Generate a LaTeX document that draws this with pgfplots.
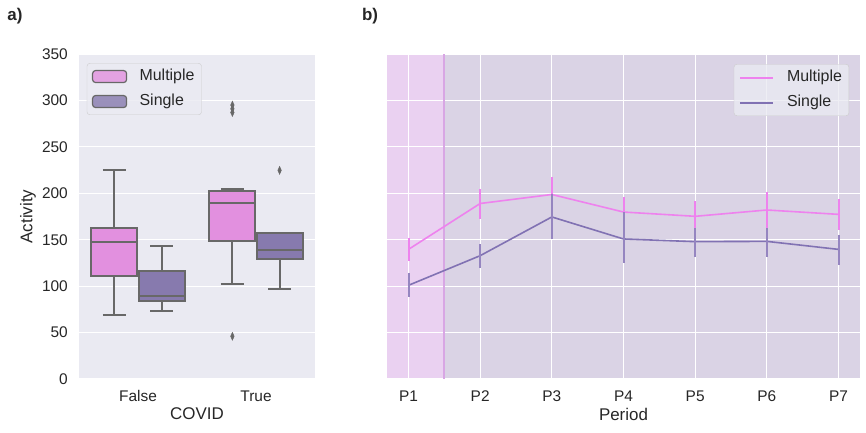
\documentclass[border=0pt]{standalone}
\usepackage{pgfplots}
\pgfplotsset{compat=1.18}
\usepackage{fontspec}
\setmainfont{Liberation Sans}

\definecolor{bg}{HTML}{EAEAF2}
\definecolor{txt}{HTML}{262626}
\definecolor{multfill}{HTML}{E290DF}
\definecolor{singfill}{HTML}{877AAE}
\definecolor{multline}{HTML}{EE82EE}
\definecolor{singline}{HTML}{8172B3}
\definecolor{singerr}{HTML}{9585C0}
\definecolor{boxedge}{HTML}{686868}
\definecolor{spanA}{HTML}{EAD1F1}
\definecolor{spanB}{HTML}{DAD3E5}
\definecolor{spanline}{HTML}{D8A6E4}
\definecolor{legedge}{HTML}{CCCCCC}

\pgfplotsset{
  set layers,
  sb/.style={
    scale only axis, height=325bp,
    axis background/.style={fill=bg},
    axis line style={draw=none},
    major tick length=0pt,
    major grid style={white, line width=1.2bp},
    ymin=0, ymax=350, ytick={0,50,...,350},
    /pgf/number format/assume math mode=true,
    tick label style={font=\fontsize{15.5}{18}\selectfont, text=txt, inner sep=0pt},
    xticklabel style={anchor=center, yshift=-17bp},
    yticklabel style={anchor=east, xshift=-11bp},
    label style={font=\fontsize{17}{20}\selectfont, text=txt},
    xlabel style={at={(axis description cs:0.5,-0.108)}, anchor=center},
    legend style={fill=bg, fill opacity=0.8, text opacity=1, draw opacity=1, draw=legedge,
      rounded corners=3bp, font=\fontsize{16}{19}\selectfont, text=txt,
      inner xsep=5bp, inner ysep=3.5bp, row sep=5.5bp,
      nodes={inner sep=2bp, text height=12bp, text depth=3.5bp}},
    legend cell align=left,
  },
  boxpart/.style={forget plot, draw=boxedge, line width=2bp},
  whisk/.style={forget plot, boxedge, line width=2bp, unbounded coords=jump},
  outl/.style={forget plot, only marks, mark=diamond*, mark size=4bp,
    mark options={xscale=0.6, fill=boxedge, draw=boxedge, line width=0.4bp}},
}

\begin{document}
\begin{tikzpicture}
\path (0,0) rectangle (866bp,433bp);

\node[font=\fontsize{17}{20}\selectfont\bfseries, text=txt] at (15bp,417bp) {a)};
\node[font=\fontsize{17}{20}\selectfont\bfseries, text=txt] at (370bp,417bp) {b)};

% a) boxplots: box = quartiles, whiskers, median, outliers
\begin{axis}[sb,
  at={(79bp,54bp)}, anchor=south west,
  width=236bp,
  xmin=-0.5, xmax=1.5,
  xtick={0,1}, xticklabels={False,True},
  ymajorgrids=true,
  xlabel=COVID, ylabel=Activity,
  ylabel style={at={(axis description cs:-0.216,0.5)}, anchor=center},
  legend style={at={(0.033,0.972)}, anchor=north west},
  legend image code/.code={\draw[#1] (0bp,-6bp) rectangle (34bp,6bp);
    \path[draw=none, fill=none] (0bp,0bp) -- (45bp,0bp);},
]
\addlegendimage{fill=multfill, draw=boxedge, line width=1.2bp}
\addlegendentry{Multiple}
\addlegendimage{fill=singfill, draw=boxedge, line width=1.2bp}
\addlegendentry{Single}

% False / Multiple
\addplot[whisk] coordinates {(-0.2,111.3) (-0.2,69.3) (nan,nan) (-0.2975,69.3) (-0.1025,69.3) (nan,nan)
  (-0.2,163) (-0.2,225.4) (nan,nan) (-0.2975,225.4) (-0.1025,225.4)};
\addplot[boxpart, fill=multfill] coordinates {(-0.395,111.3) (-0.005,111.3) (-0.005,163) (-0.395,163)} -- cycle;
\addplot[boxpart] coordinates {(-0.395,147.9) (-0.005,147.9)};
% False / Single
\addplot[whisk] coordinates {(0.2,84) (0.2,73.6) (nan,nan) (0.1025,73.6) (0.2975,73.6) (nan,nan)
  (0.2,116) (0.2,143.6) (nan,nan) (0.1025,143.6) (0.2975,143.6)};
\addplot[boxpart, fill=singfill] coordinates {(0.005,84) (0.395,84) (0.395,116) (0.005,116)} -- cycle;
\addplot[boxpart] coordinates {(0.005,89) (0.395,89)};
% True / Multiple
\addplot[whisk] coordinates {(0.8,149) (0.8,102.7) (nan,nan) (0.7025,102.7) (0.8975,102.7) (nan,nan)
  (0.8,202.5) (0.8,205) (nan,nan) (0.7025,205) (0.8975,205)};
\addplot[boxpart, fill=multfill] coordinates {(0.605,149) (0.995,149) (0.995,202.5) (0.605,202.5)} -- cycle;
\addplot[boxpart] coordinates {(0.605,190) (0.995,190)};
\addplot[outl] coordinates {(0.8,295) (0.8,291) (0.8,287) (0.8,46)};
% True / Single
\addplot[whisk] coordinates {(1.2,129.2) (1.2,97.3) (nan,nan) (1.1025,97.3) (1.2975,97.3) (nan,nan)
  (1.2,157) (1.2,157) (nan,nan) (1.1025,157) (1.2975,157)};
\addplot[boxpart, fill=singfill] coordinates {(1.005,129.2) (1.395,129.2) (1.395,157) (1.005,157)} -- cycle;
\addplot[boxpart] coordinates {(1.005,139.3) (1.395,139.3)};
\addplot[outl] coordinates {(1.2,224.7)};
\end{axis}

% b) line plot with error bars
\begin{axis}[sb,
  at={(387bp,54bp)}, anchor=south west,
  width=473bp,
  xmin=-0.3, xmax=6.3,
  xtick={0,...,6}, xticklabels={P1,P2,P3,P4,P5,P6,P7},
  yticklabels={},
  grid=major,
  xlabel=Period,
  legend style={at={(0.977,0.969)}, anchor=north east},
  legend image code/.code={\draw[#1, line width=2bp] (0bp,0bp) -- (33bp,0bp);
    \path[draw=none, fill=none] (0bp,0bp) -- (45bp,0bp);},
]
\addplot[forget plot, fill=spanB, draw=none, on layer=axis background]
  coordinates {(0.5,0) (6.3,0) (6.3,350) (0.5,350)} -- cycle;
\addplot[forget plot, fill=spanA, draw=none, on layer=axis background]
  coordinates {(-0.3,0) (0.5,0) (0.5,350) (-0.3,350)} -- cycle;
\addplot[forget plot, spanline, line width=2bp] coordinates {(0.5,0) (0.5,350)};

\addplot[multline, line width=1.6bp,
  error bars/.cd, y dir=both, y explicit, error mark=none,
  error bar style={line width=2bp, multline}]
  table[x=x, y=y, y error plus=ep, y error minus=em] {
x y ep em
0 139.6 12.4 12.6
1 189.0 16.0 17.0
2 198.7 18.3 18.0
3 179.8 15.8 15.8
4 175.2 17.0 17.0
5 182.0 19.7 19.0
6 177.3 16.7 17.0
};
\addlegendentry{Multiple}
\addplot[singline, line width=1.6bp,
  error bars/.cd, y dir=both, y explicit, error mark=none,
  error bar style={line width=2bp, singerr}]
  table[x=x, y=y, y error plus=ep, y error minus=em] {
x y ep em
0 100.9 12.9 12.3
1 132.8 12.2 12.8
2 174.5 24.3 24.1
3 150.8 28.7 26.3
4 147.9 15.1 16.8
5 148.2 14.8 17.1
6 139.6 15.8 17.2
};
\addlegendentry{Single}
\end{axis}
\end{tikzpicture}
\end{document}
